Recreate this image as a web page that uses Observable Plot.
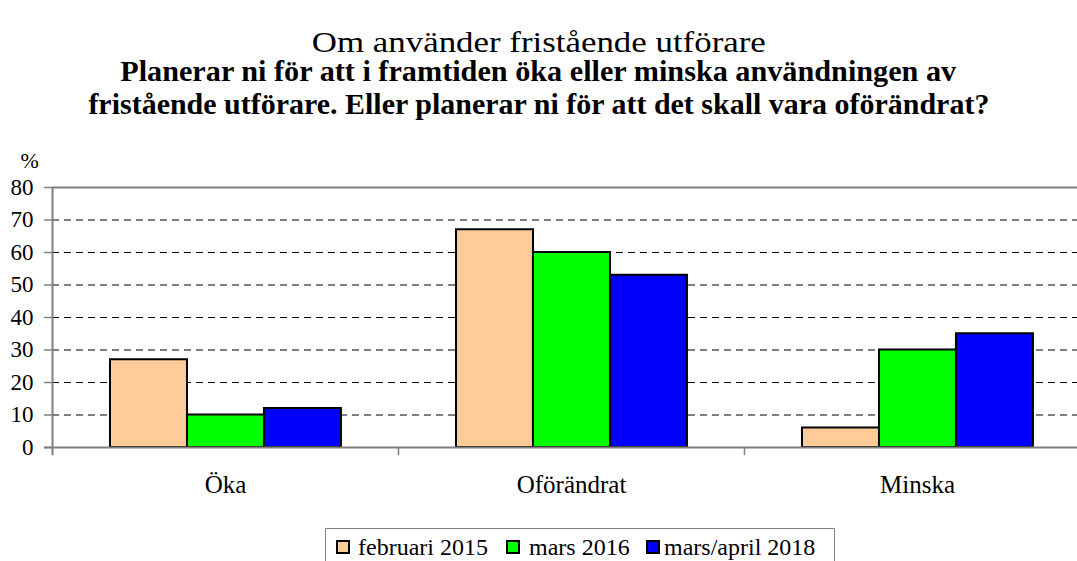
<!DOCTYPE html>
<html>
<head>
<meta charset="utf-8">
<script src="https://cdn.jsdelivr.net/npm/d3@7"></script>
<script src="https://cdn.jsdelivr.net/npm/@observablehq/plot@0.6"></script>
<style>
  html, body { margin: 0; padding: 0; background: #fff; width: 1077px; height: 561px; overflow: hidden; }
  body, div, span { font-family: "Liberation Serif", "Times New Roman", serif; color: #000; }
  body { position: relative; }
  .tline { position: absolute; left: 0; width: 1077px; text-align: center; white-space: nowrap; }
  .tline span { display: inline-block; transform-origin: center center; }
  #t1 { top: 28px; font-size: 29px; line-height: 29px; }
  #t2 { top: 57px; font-size: 29px; line-height: 29px; font-weight: bold; }
  #t3 { top: 90px; font-size: 29px; line-height: 29px; font-weight: bold; }
  #chart { position: absolute; left: 0; top: 130px; }
  #chart svg, #chart svg text { font-family: "Liberation Serif", "Times New Roman", serif !important; }
  #legend { position: absolute; left: 325px; top: 528px; width: 510px; height: 45px; border: 1px solid #808080; box-sizing: border-box; }
  #legend .sw { position: absolute; top: 11px; width: 14px; height: 14px; border: 2px solid #000; box-sizing: border-box; }
  #legend .tx { position: absolute; top: 6px; font-size: 24px; line-height: 24px; white-space: nowrap; }
</style>
</head>
<body>
<div id="t1" class="tline"><span>Om använder fristående utförare</span></div>
<div id="t2" class="tline"><span>Planerar ni för att i framtiden öka eller minska användningen av</span></div>
<div id="t3" class="tline"><span>fristående utförare. Eller planerar ni för att det skall vara oförändrat?</span></div>
<div id="chart"></div>
<div id="legend"></div>
<script>
const categories = ["Öka", "Oförändrat", "Minska"];
const seriesNames = ["februari 2015", "mars 2016", "mars/april 2018"];
const seriesColors = ["#FFCC99", "#00FF00", "#0000FF"];
const feb2015 = [27, 67, 6];
const mars2016 = [10, 60, 30];
const marsApril2018 = [12, 53, 35];
const yTicks = [0, 10, 20, 30, 40, 50, 60, 70, 80];

// fit title lines to the widths seen in the reference
[["t1", 454], ["t2", 836], ["t3", 901]].forEach(([id, w]) => {
  const s = document.querySelector("#" + id + " span");
  const nat = s.getBoundingClientRect().width;
  if (nat > 0) s.style.transform = `scaleX(${w / nat})`;
});

const seriesValues = [feb2015, mars2016, marsApril2018];
const data = [];
seriesNames.forEach((s, si) => categories.forEach((c, ci) => data.push({cat: c, series: s, si, value: seriesValues[si][ci]})));

const W = 1077, H = 400;
const mL = 52, mR = -13, mT = 57, mB = 83;
const bw = (W - mL - mR) / categories.length;
const outer = bw * 0.1676, barW = bw * 0.2225;

const barMarks = seriesNames.map((s, si) => Plot.barY(data.filter(d => d.si === si), {
  x: "cat", y: "value", fill: seriesColors[si], stroke: "#000", strokeWidth: 2,
  insetLeft: outer + barW * si, insetRight: bw - outer - barW * (si + 1)
}));

const chart = Plot.plot({
  width: W, height: H,
  marginLeft: mL, marginRight: mR, marginTop: mT, marginBottom: mB,
  style: {fontFamily: "Liberation Serif, Times New Roman, serif", color: "#000", background: "transparent"},
  x: {domain: categories, padding: 0, label: null},
  y: {domain: [0, 80], ticks: yTicks, label: null},
  marks: [
    Plot.ruleY(yTicks.filter(t => t > 0 && t < 80), {stroke: "#000", strokeWidth: 1, strokeDasharray: "7,5"}),
    Plot.ruleY([80], {stroke: "#808080", strokeWidth: 2}),
    ...barMarks,
    Plot.ruleY([0], {stroke: "#808080", strokeWidth: 2, insetLeft: -8}),
    Plot.ruleX([categories[0]], {stroke: "#808080", strokeWidth: 2, dx: -bw / 2, y1: 80, y2: -2.5}),
    Plot.ruleX(categories.slice(1), {stroke: "#808080", strokeWidth: 1.5, dx: -bw / 2, y1: 0, y2: -2.5}),
    Plot.axisY({ticks: yTicks, tickSize: 8, tickPadding: 11, fontSize: 23, stroke: "#808080", strokeWidth: 1.5, fill: "#000"}),
    Plot.axisX({tickSize: 0, tickPadding: 28, fontSize: 25, fill: "#000"}),
    Plot.text(["%"], {frameAnchor: "top-left", dx: -32, dy: -35, fontSize: 22, fill: "#000"})
  ]
});
document.getElementById("chart").appendChild(chart);

const legend = document.getElementById("legend");
const swX = [10, 180, 320], txX = [32, 203, 338];
seriesNames.forEach((s, i) => {
  const sw = document.createElement("div"); sw.className = "sw"; sw.style.background = seriesColors[i]; sw.style.left = swX[i] + "px";
  const tx = document.createElement("div"); tx.className = "tx"; tx.textContent = s; tx.style.left = txX[i] + "px";
  legend.appendChild(sw); legend.appendChild(tx);
});
</script>
</body>
</html>
